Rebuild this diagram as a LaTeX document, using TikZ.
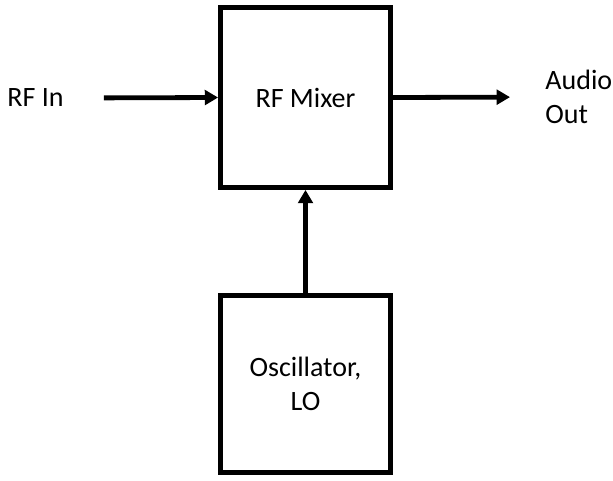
\documentclass[tikz,border=0pt]{standalone}
\usepackage{fontspec}
\setmainfont{Carlito}
\usetikzlibrary{arrows.meta,positioning}

\tikzset{
  block/.style={draw, line width=3.6pt, minimum width=127.5pt, align=center},
  label/.style={inner sep=0pt, align=left},
}

\begin{document}
\begin{tikzpicture}[x=0.75pt, y=-0.75pt, >={Triangle[length=10pt,width=11pt]},
  font=\fontsize{21}{26}\selectfont, line width=3.6pt]
\useasboundingbox (0,0) rectangle (613,480);
\node[name=rf_mixer, block, minimum height=135pt] at (305.5,97.5) {RF Mixer};
\node[name=osc_lo, block, minimum height=132.75pt] at (305.5,384) {Oscillator,\\LO};
\node[name=rf_in, label, anchor=west] at (5,98) {RF In};
\node[name=audio_out, label, anchor=west] at (543,97) {Audio\\Out};

\draw(rf_in.east) edge[->, shorten <=28.5pt](rf_mixer.west);
\draw(rf_mixer.east) edge[->, shorten >=24.75pt](audio_out.west);
\draw(osc_lo.north) edge[->](rf_mixer.south);
\end{tikzpicture}
\end{document}
